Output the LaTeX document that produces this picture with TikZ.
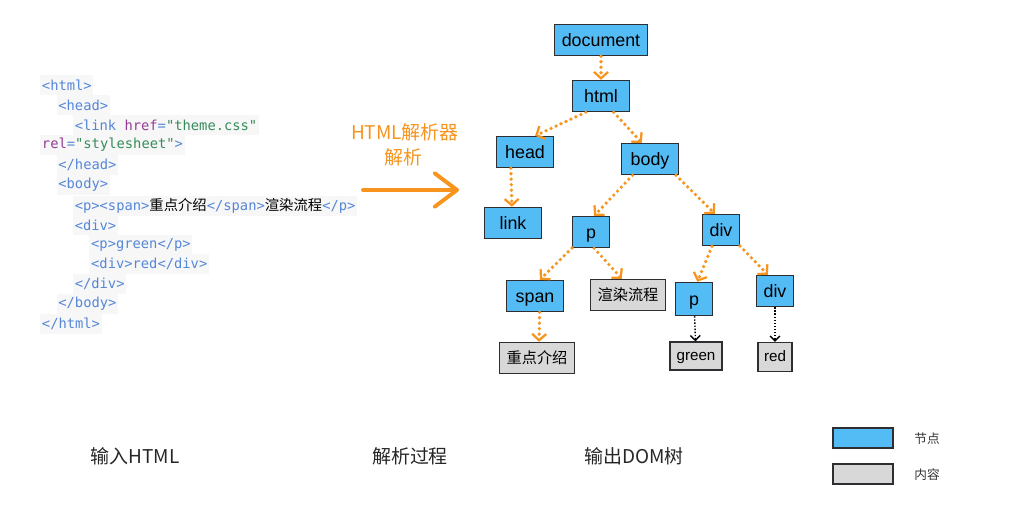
\documentclass[tikz,border=0pt]{standalone}
\usepackage{fontspec}
\setmainfont{Liberation Sans}
\newfontfamily\cjk{Noto Sans CJK SC}
\newfontfamily\codefont{DejaVu Sans Mono}
\usetikzlibrary{arrows.meta,positioning,calc}
\definecolor{sky}{RGB}{84,188,245}
\definecolor{ash}{RGB}{216,216,216}
\definecolor{tang}{RGB}{247,148,30}
\definecolor{ink}{RGB}{45,45,50}
\definecolor{tagblue}{RGB}{85,135,215}
\definecolor{attrpurple}{RGB}{150,60,150}
\definecolor{strgreen}{RGB}{55,140,90}
\definecolor{codebg}{RGB}{247,247,247}
\newcommand\tagc[1]{\textcolor{tagblue}{#1}}
\newcommand\attc[1]{\textcolor{attrpurple}{#1}}
\newcommand\strc[1]{\textcolor{strgreen}{#1}}
\newcommand\cjc[1]{{\cjk\fontsize{10.2}{11}\selectfont #1}}
\tikzset{
  dom/.style={draw=ink,fill=sky,line width=0.9pt,inner sep=0pt,
    minimum width=#1,minimum height=0.78cm,text height=0.86em,text depth=0pt,
    font=\fontsize{12.7}{15}\selectfont},
  dom/.default=1.43cm,
  leaf/.style={draw=ink,fill=ash,line width=0.9pt,inner sep=0pt,
    minimum width=#1,minimum height=0.78cm,text height=0.58em,text depth=0pt,
    font=\fontsize{10.8}{13}\selectfont},
  leaf/.default=1.88cm,
  cjkleaf/.style={leaf,text height=0.8em,font=\cjk\fontsize{10.8}{13}\selectfont},
  orflow/.style={draw=tang,line width=2.6pt,line cap=round,dash pattern=on 0pt off 3.9pt,
    -{Straight Barb[length=4.5pt,width=10pt,line width=1.6pt]}},
  bkflow/.style={draw=black,line width=1pt,dash pattern=on 1pt off 1.2pt,
    -{Straight Barb[length=3.5pt,width=7pt,line width=1pt]}},
  bigflow/.style={draw=tang,line width=2.8pt,line cap=round,
    -{Straight Barb[length=16pt,width=24pt,line width=2.8pt,round]}},
  codeline/.style={anchor=west,fill=codebg,inner xsep=1.2pt,inner ysep=0pt,
    minimum height=0.49cm,font=\codefont\fontsize{9.8}{11}\selectfont},
  caption/.style={font=\cjk\fontsize{13.5}{16}\selectfont,text=black!85},
  hand/.style={font=\cjk\fontsize{13.5}{16}\selectfont,text=tang},
  keylabel/.style={font=\cjk\fontsize{9}{11}\selectfont,text=black!80},
}
\begin{document}
\begin{tikzpicture}[x=0.025cm,y=-0.025cm]
  \useasboundingbox (0,0) rectangle (1018,522);
  % input html
  \node[codeline] (c1)  at (40,85)    {\tagc{<html>}};
  \node[codeline] (c2)  at (56.4,105) {\tagc{<head>}};
  \node[codeline] (c3)  at (72.8,125) {\tagc{<link} \attc{href}\tagc{=}\strc{"theme.css"}};
  \node[codeline] (c4)  at (40,145)   {\attc{rel}\tagc{=}\strc{"stylesheet"}\tagc{>}};
  \node[codeline] (c5)  at (56.4,165) {\tagc{</head>}};
  \node[codeline] (c6)  at (56.4,185) {\tagc{<body>}};
  \node[codeline] (c7)  at (72.8,206) {\tagc{<p><span>}\cjc{重点介绍}\tagc{</span>}\cjc{渲染流程}\tagc{</p>}};
  \node[codeline] (c8)  at (72.8,225) {\tagc{<div>}};
  \node[codeline] (c9)  at (89.2,245) {\tagc{<p>green</p>}};
  \node[codeline] (c10) at (89.2,264) {\tagc{<div>red</div>}};
  \node[codeline] (c11) at (72.8,284) {\tagc{</div>}};
  \node[codeline] (c12) at (56.4,304) {\tagc{</body>}};
  \node[codeline] (c13) at (40,324)   {\tagc{</html>}};
  % parser
  \node[hand] (parser) at (405,132) {HTML解析器};
  \node[hand] (parse) at (403,157) {解析};
  \coordinate (parse in) at (363,190);
  \coordinate (parse out) at (459,190);
  \draw[bigflow] (parse in) -- (parse out);
  % dom tree
  \node[dom=2.33cm] (document) at (601,40) {document};
  \node[dom] (html) at (601,96) {html};
  \node[dom] (head) at (525,152) {head};
  \node[dom] (body) at (650,159) {body};
  \node[dom] (link) at (513,223) {link};
  \node[dom=0.92cm] (p) at (591,232) {p};
  \node[dom=0.92cm] (div) at (721,230) {div};
  \node[dom] (span) at (535,296) {span};
  \node[cjkleaf] (flow) at (628,295) {渲染流程};
  \node[dom=0.92cm,minimum height=0.83cm] (pg) at (694,299) {p};
  \node[dom=0.92cm] (divr) at (775,291) {div};
  \node[cjkleaf] (intro) at (537,358) {重点介绍};
  \node[leaf=1.3cm,minimum height=0.7cm] (green) at (696,356) {green};
  \node[leaf=0.85cm,minimum height=0.72cm] (red) at (775,357) {red};
  \draw[orflow] (document) -- (html);
  \draw[orflow] (html.227) -- (head.58);
  \draw[orflow] (html.308) -- (body.117);
  \draw[orflow] (head.229) -- (link.94);
  \draw[orflow] (body.223) -- (p.79);
  \draw[orflow] (body.328) -- (div.111);
  \draw[orflow] (p.220) -- (span.73);
  \draw[orflow] (p.281) -- (flow.111);
  \draw[orflow] (div.241) -- (pg.79);
  \draw[orflow] (div.320) -- (divr.114);
  \draw[orflow] (span.286) -- (intro.83);
  \draw[bkflow] (pg) -- (green);
  \draw[bkflow] (divr) -- (red);
  % captions
  \node[caption] (in) at (135,456) {输入HTML};
  \node[caption] (proc) at (410,456) {解析过程};
  \node[caption] (out) at (634,456) {输出DOM树};
  % legend
  \node[dom=1.5cm,minimum height=0.5cm] (key dom) at (863,438) {};
  \node[leaf=1.5cm,minimum height=0.5cm] (key leaf) at (863,474) {};
  \node[keylabel] (key dom text) at (927,439) {节点};
  \node[keylabel] (key leaf text) at (927,475) {内容};
\end{tikzpicture}
\end{document}
